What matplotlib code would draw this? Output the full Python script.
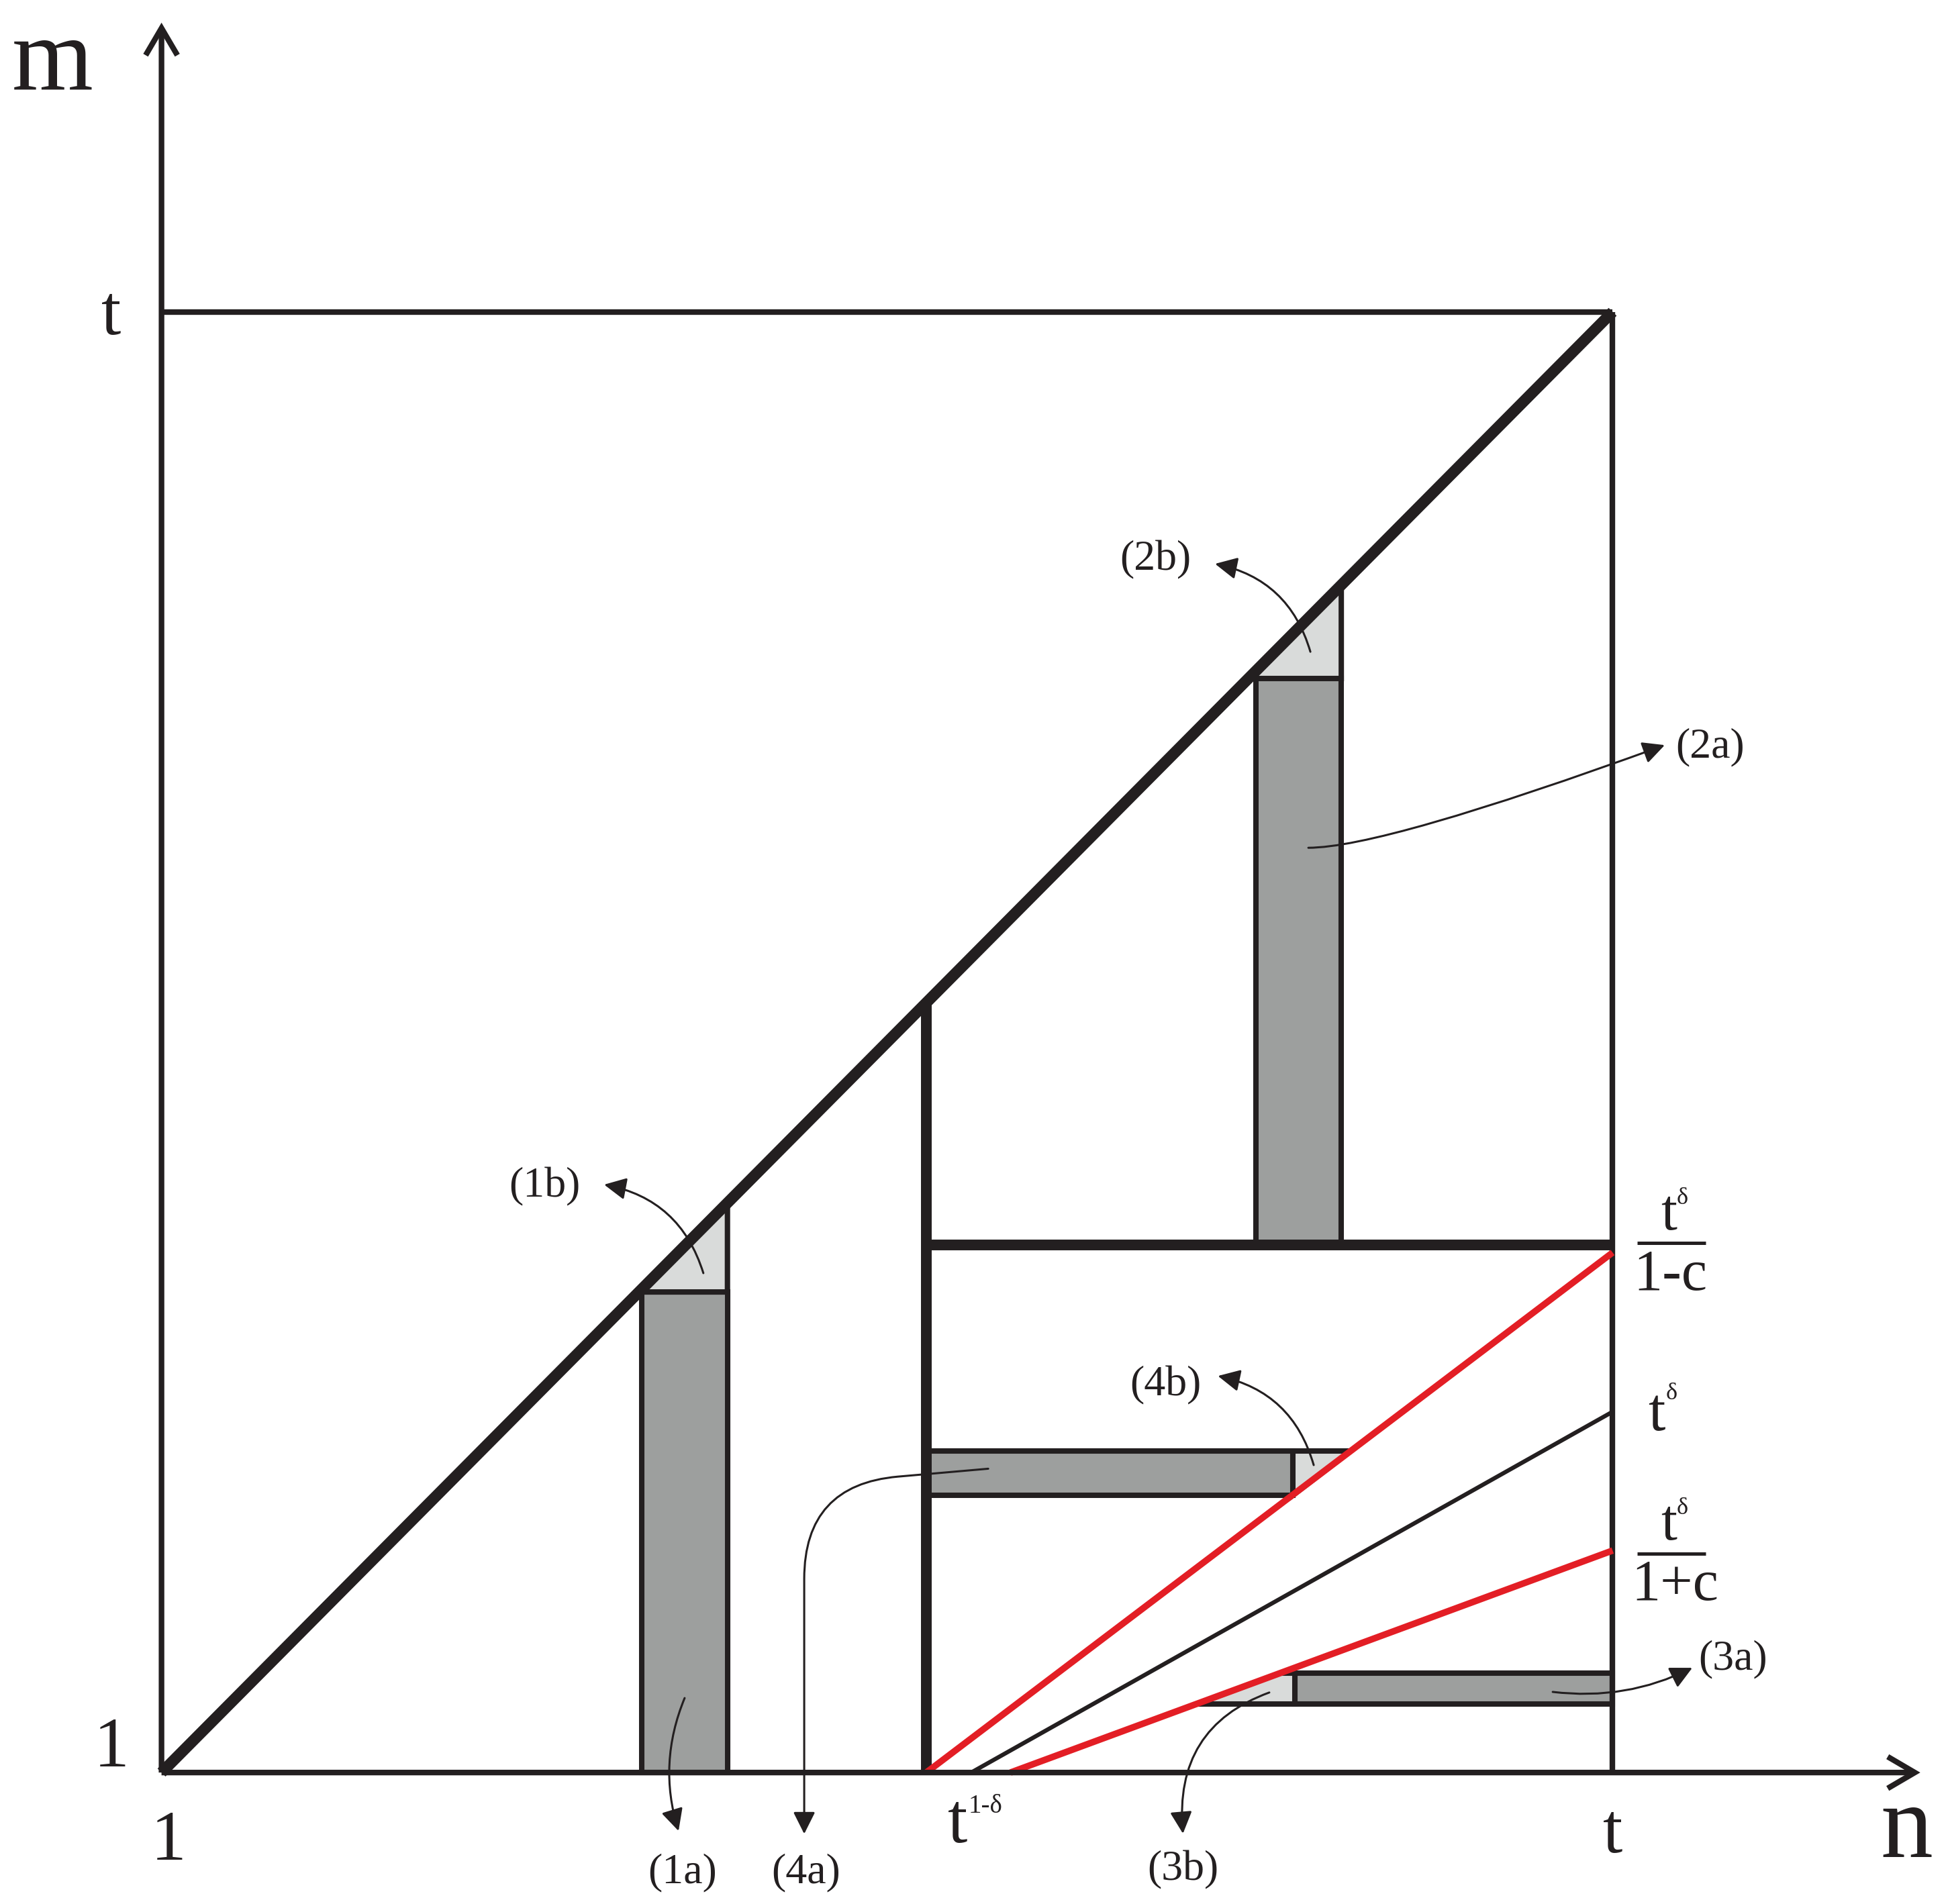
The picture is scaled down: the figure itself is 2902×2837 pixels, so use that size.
"""
Schematic of the (n, m) region split into the strips (1a)-(4b), with the
t^delta rays drawn in red/black.  Coordinates are in units of t (origin = 1).
"""

import matplotlib
matplotlib.use("Agg")
import matplotlib.pyplot as plt
from matplotlib.patches import Rectangle, Polygon, FancyArrowPatch

plt.rcParams['font.family'] = ['Liberation Serif', 'DejaVu Serif']

INK = "#231f20"
RED = "#e31e25"
DARK = "#9d9f9e"
LIGHT = "#d9dbda"

# ---- geometry (n and m in units of t) ----
diag_n = [0.0, 1.0]
diag_m = [0.0, 1.0]
split_n = 0.527            # t^(1-delta)
split_m = 0.361            # level of t^delta/(1-c)

col1_n = [0.331, 0.390]    # strip (1a)/(1b)
col1_top = 0.329
col2_n = [0.754, 0.813]    # strip (2a)/(2b)
col2_m = [0.361, 0.749]

row4_m = [0.190, 0.220]    # strip (4a)/(4b)
row3_m = [0.047, 0.068]    # strip (3a)/(3b)
row3_start = 0.781

# rays: start on the n axis, value reached at n = t
ray_start = [0.527, 0.558, 0.585]
ray_end = [0.356, 0.247, 0.152]
ray_color = [RED, INK, RED]
ray_lw = [7.0, 4.5, 7.0]

y_arrow_top = 1.198
x_arrow_end = 1.212

# annotation labels: text, label pos, arrow start, arrow tip, connection
ann_text = ["(1b)", "(2b)", "(2a)", "(4b)", "(4a)", "(1a)", "(3b)", "(3a)"]
ann_xy = [(0.264, 0.401), (0.685, 0.830), (1.067, 0.702), (0.692, 0.265),
          (0.444, -0.0685), (0.359, -0.0685), (0.704, -0.0669), (1.083, 0.0776)]
ann_from = [(0.3734, 0.3419), (0.7917, 0.7673), (0.7903, 0.6331), (0.7940, 0.2105),
            (0.5697, 0.2080), (0.3605, 0.0510), (0.7634, 0.0548), (0.9587, 0.0552)]
ann_to = [(0.3050, 0.4025), (0.7260, 0.8275), (1.0359, 0.7034), (0.7280, 0.2715),
          (0.4429, -0.0420), (0.3563, -0.0400), (0.7039, -0.0418), (1.0549, 0.0717)]
ann_conn = ["arc3,rad=0.3", "arc3,rad=0.3", "angle3,angleA=0,angleB=20", "arc3,rad=0.3",
            "angle,angleA=5,angleB=90,rad=140", "arc3,rad=0.18",
            "angle3,angleA=20,angleB=95", "arc3,rad=0.15"]


def ray_n(i, m):
    # n where ray i reaches height m
    return ray_start[i] + m * (1.0 - ray_start[i]) / ray_end[i]


fig = plt.figure(figsize=(29.02, 28.37), dpi=100)
ax = fig.add_axes([0, 0, 1, 1])
ax.set_xlim(-0.1113, 1.2311)
ax.set_ylim(-0.0900, 1.2135)
ax.axis("off")

# ---- shaded strips ----
edge = dict(edgecolor=INK, lw=5.8, joinstyle="miter")

# (1a) / (1b)
ax.add_patch(Rectangle((col1_n[0], 0), col1_n[1] - col1_n[0], col1_top,
                       facecolor=DARK, zorder=1, **edge))
ax.add_patch(Polygon([(col1_n[0], col1_top), (col1_n[1], col1_top),
                      (col1_n[1], col1_n[1]), (col1_n[0], col1_n[0])],
                     facecolor=LIGHT, zorder=1, **edge))
# (2a) / (2b)
ax.add_patch(Rectangle((col2_n[0], col2_m[0]), col2_n[1] - col2_n[0], col2_m[1] - col2_m[0],
                       facecolor=DARK, zorder=1, **edge))
ax.add_patch(Polygon([(col2_n[0], col2_m[1]), (col2_n[1], col2_m[1]),
                      (col2_n[1], col2_n[1]), (col2_n[0], col2_n[0])],
                     facecolor=LIGHT, zorder=1, **edge))
# (4a) / (4b)
n4b = ray_n(0, row4_m[0])
n4t = ray_n(0, row4_m[1])
ax.add_patch(Rectangle((split_n, row4_m[0]), n4b - split_n, row4_m[1] - row4_m[0],
                       facecolor=DARK, zorder=1, **edge))
ax.add_patch(Polygon([(n4b, row4_m[0]), (n4b, row4_m[1]), (n4t, row4_m[1])],
                     facecolor=LIGHT, zorder=1, **edge))
# (3a) / (3b)
n3b = ray_n(2, row3_m[0])
n3t = ray_n(2, row3_m[1])
ax.add_patch(Rectangle((row3_start, row3_m[0]), 1.0 - row3_start, row3_m[1] - row3_m[0],
                       facecolor=DARK, zorder=1, **edge))
ax.add_patch(Polygon([(n3b, row3_m[0]), (row3_start, row3_m[0]),
                      (row3_start, row3_m[1]), (n3t, row3_m[1])],
                     facecolor=LIGHT, zorder=1, **edge))

# ---- frame lines ----
ax.plot([0, 1], [1, 1], color=INK, lw=6, solid_capstyle="butt", zorder=2)
ax.plot([1, 1], [0, 1], color=INK, lw=6, solid_capstyle="butt", zorder=2)
ax.plot(diag_n, diag_m, color=INK, lw=12, solid_capstyle="butt", zorder=3)
ax.plot([split_n, split_n], [0, split_n], color=INK, lw=11.5, solid_capstyle="butt", zorder=3)
ax.plot([split_n, 1], [split_m, split_m], color=INK, lw=11.5, solid_capstyle="butt", zorder=3)

for s, e, c, w in zip(ray_start, ray_end, ray_color, ray_lw):
    ax.plot([s, 1], [0, e], color=c, lw=w, solid_capstyle="butt", zorder=4)

# ---- axes with open arrow heads ----
for end in [(0, y_arrow_top), (x_arrow_end, 0)]:
    ax.add_patch(FancyArrowPatch((0, 0), end, arrowstyle="->,head_length=29,head_width=17",
                                 mutation_scale=1, lw=6, color=INK, shrinkA=0, shrinkB=0,
                                 joinstyle="miter", capstyle="butt", zorder=5))

# ---- annotations ----
for txt, xy, a, b, conn in zip(ann_text, ann_xy, ann_from, ann_to, ann_conn):
    ax.add_patch(FancyArrowPatch(a, b, connectionstyle=conn,
                                 arrowstyle="-|>,head_length=20,head_width=10",
                                 mutation_scale=1, lw=2.2, color=INK,
                                 shrinkA=0, shrinkB=0, zorder=6))
    ax.text(xy[0], xy[1], txt, fontsize=46, color=INK, ha="center", va="center", zorder=6)

# ---- axis labels ----
big = dict(color=INK, ha="center", va="baseline")
ax.text(-0.075, 1.152, "m", fontsize=112, **big)
ax.text(1.2024, -0.0577, "n", fontsize=112, **big)
ax.text(-0.0347, 0.9849, "t", fontsize=76, **big)
ax.text(-0.0345, 0.0042, "1", fontsize=76, **big)
ax.text(0.0048, -0.0597, "1", fontsize=76, **big)
ax.text(1.0002, -0.0547, "t", fontsize=76, **big)
ax.text(0.5484, -0.0476, "t", fontsize=76, **big)
ax.text(0.5562, -0.0275, "1-δ", fontsize=28, color=INK, ha="left", va="baseline")

# right-hand labels: t^δ/(1-c), t^δ, t^δ/(1+c)
frac_num_m = [0.3718, 0.1594]
frac_line_m = [0.3626, 0.1499]
frac_den_m = [0.3304, 0.1181]
frac_den = ["1-c", "1+c"]
frac_den_n = [1.0396, 1.0428]
for num_m, line_m, den_m, den, den_n in zip(frac_num_m, frac_line_m, frac_den_m, frac_den, frac_den_n):
    ax.text(1.0387, num_m, "t", fontsize=62, **big)
    ax.text(1.0442, num_m + 0.0174, "δ", fontsize=26, color=INK, ha="left", va="baseline")
    ax.plot([1.0170, 1.0640], [line_m, line_m], color=INK, lw=3.6, solid_capstyle="butt")
    ax.text(den_n, den_m, den, fontsize=62, **big)

ax.text(1.0303, 0.2343, "t", fontsize=66, **big)
ax.text(1.0368, 0.2555, "δ", fontsize=26, color=INK, ha="left", va="baseline")

fig.savefig("out.png", dpi=100, facecolor="white")
